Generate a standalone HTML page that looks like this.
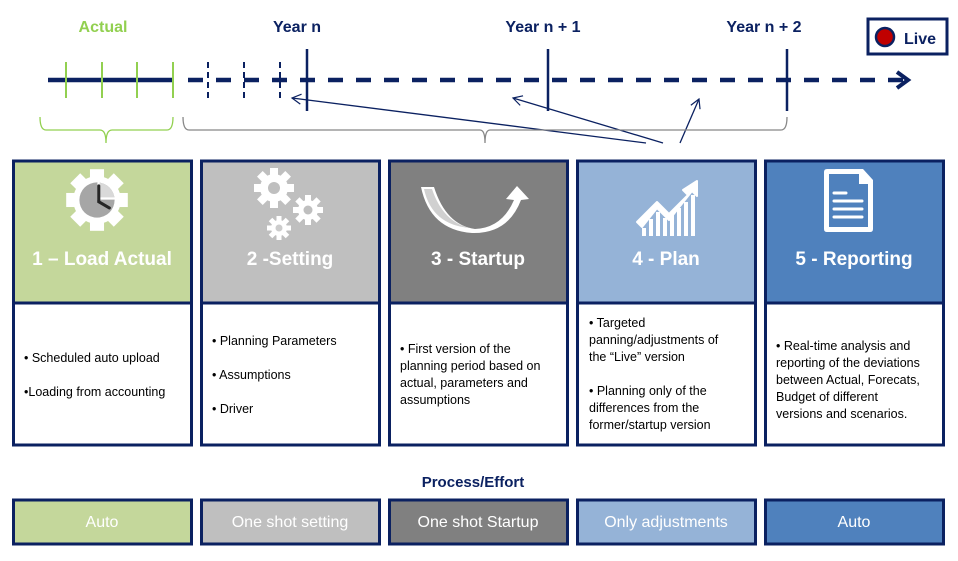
<!DOCTYPE html>
<html><head><meta charset="utf-8"><style>
html,body{margin:0;padding:0;background:#fff;}
svg{display:block;font-family:"Liberation Sans",sans-serif;}
</style></head><body>
<svg width="958" height="561" viewBox="0 0 958 561" xmlns="http://www.w3.org/2000/svg">
<defs>
<marker id="ah" markerWidth="12" markerHeight="12" refX="10" refY="6" orient="auto" markerUnits="userSpaceOnUse">
<path d="M1,1 L10,6 L1,11" fill="none" stroke="#0b2161" stroke-width="1.2"/></marker>
</defs>
<text x="103" y="32" text-anchor="middle" font-size="16" font-weight="bold" fill="#92d050">Actual</text>
<text x="297" y="32" text-anchor="middle" font-size="16" font-weight="bold" fill="#0b2161">Year n</text>
<text x="543" y="32" text-anchor="middle" font-size="16" font-weight="bold" fill="#0b2161">Year n + 1</text>
<text x="764" y="32" text-anchor="middle" font-size="16" font-weight="bold" fill="#0b2161">Year n + 2</text>
<rect x="868" y="19" width="79" height="35" fill="#fff" stroke="#0b2161" stroke-width="3"/>
<circle cx="885" cy="37" r="9" fill="#c00000" stroke="#0b2161" stroke-width="2.5"/>
<text x="904" y="44" font-size="16" font-weight="bold" fill="#0b2161">Live</text>
<line x1="48" y1="80" x2="174" y2="80" stroke="#0b2161" stroke-width="4.5"/>
<line x1="188" y1="80" x2="905" y2="80" stroke="#0b2161" stroke-width="4.5" stroke-dasharray="15,13"/>
<path d="M897,72 L908,80 L897,88" fill="none" stroke="#0b2161" stroke-width="4"/>
<g stroke="#92d050" stroke-width="2">
<line x1="66" y1="62" x2="66" y2="98"/><line x1="102" y1="62" x2="102" y2="98"/>
<line x1="137" y1="62" x2="137" y2="98"/><line x1="173" y1="62" x2="173" y2="98"/></g>
<g stroke="#0b2161" stroke-width="2" stroke-dasharray="6,4">
<line x1="208" y1="62" x2="208" y2="98"/><line x1="244" y1="62" x2="244" y2="98"/><line x1="280" y1="62" x2="280" y2="98"/></g>
<g stroke="#0b2161" stroke-width="2.5">
<line x1="307" y1="49" x2="307" y2="111"/><line x1="548" y1="49" x2="548" y2="111"/><line x1="787" y1="49" x2="787" y2="111"/></g>
<g stroke="#0b2161" stroke-width="1.3" fill="none">
<line x1="646" y1="143" x2="292" y2="98" marker-end="url(#ah)"/>
<line x1="663" y1="143" x2="513" y2="98" marker-end="url(#ah)"/>
<line x1="680" y1="143" x2="699" y2="99" marker-end="url(#ah)"/>
</g>
<path d="M40,117 Q40,130 46,130 L100,130 Q106,130 106,143 Q106,130 112,130 L167,130 Q173,130 173,117" fill="none" stroke="#92d050" stroke-width="1.3"/>
<path d="M183,117 Q183,130 189,130 L480,130 Q485,130 485,143 Q485,130 490,130 L781,130 Q787,130 787,117" fill="none" stroke="#888" stroke-width="1.3"/>
<g stroke="#0b2161" stroke-width="3">
<rect x="13.5" y="161" width="178" height="142" fill="#c4d79b"/>
<rect x="201.5" y="161" width="178" height="142" fill="#bfbfbf"/>
<rect x="389.5" y="161" width="178" height="142" fill="#808080"/>
<rect x="577.5" y="161" width="178" height="142" fill="#95b3d7"/>
<rect x="765.5" y="161" width="178" height="142" fill="#4f81bd"/>
<rect x="13.5" y="303" width="178" height="142" fill="#fff"/>
<rect x="201.5" y="303" width="178" height="142" fill="#fff"/>
<rect x="389.5" y="303" width="178" height="142" fill="#fff"/>
<rect x="577.5" y="303" width="178" height="142" fill="#fff"/>
<rect x="765.5" y="303" width="178" height="142" fill="#fff"/>
</g>
<g font-size="19" font-weight="bold" fill="#fff" text-anchor="middle">
<text x="102" y="265">1 – Load Actual</text>
<text x="290" y="265">2 -Setting</text>
<text x="478" y="265">3 - Startup</text>
<text x="666" y="265">4 - Plan</text>
<text x="854" y="265">5 - Reporting</text>
</g>
<g transform="translate(97,200) scale(0.88)">
<g fill="#fff">
<circle r="27"/>
<rect x="-8" y="-35" width="16" height="14"/><rect x="-8" y="21" width="16" height="14"/>
<rect x="-35" y="-8" width="14" height="16"/><rect x="21" y="-8" width="14" height="16"/>
<rect x="-8" y="-35" width="16" height="14" transform="rotate(45)"/><rect x="-8" y="-35" width="16" height="14" transform="rotate(135)"/>
<rect x="-8" y="-35" width="16" height="14" transform="rotate(225)"/><rect x="-8" y="-35" width="16" height="14" transform="rotate(315)"/>
</g>
<circle r="20" fill="#a6a6a6"/>
<path d="M0,0 L0,-20 A20,20 0 0 1 20,0 Z" fill="#d9d9d9"/>
<path d="M2,-20 L2,-2 L20,-2" fill="none" stroke="#fff" stroke-width="2"/>
<path d="M2,-16 L2,2 L14,9" fill="none" stroke="#262626" stroke-width="3.5" stroke-linecap="round"/>
</g>
<g fill="#fff">
<g transform="translate(274,188)"><circle r="14"/>
<g><rect x="-4" y="-20" width="8" height="8"/><rect x="-4" y="-20" width="8" height="8" transform="rotate(45)"/><rect x="-4" y="-20" width="8" height="8" transform="rotate(90)"/><rect x="-4" y="-20" width="8" height="8" transform="rotate(135)"/><rect x="-4" y="-20" width="8" height="8" transform="rotate(180)"/><rect x="-4" y="-20" width="8" height="8" transform="rotate(225)"/><rect x="-4" y="-20" width="8" height="8" transform="rotate(270)"/><rect x="-4" y="-20" width="8" height="8" transform="rotate(315)"/></g>
<circle r="6" fill="#bfbfbf"/></g>
<g transform="translate(308,210)"><circle r="10"/>
<g><rect x="-3" y="-15" width="6" height="7"/><rect x="-3" y="-15" width="6" height="7" transform="rotate(45)"/><rect x="-3" y="-15" width="6" height="7" transform="rotate(90)"/><rect x="-3" y="-15" width="6" height="7" transform="rotate(135)"/><rect x="-3" y="-15" width="6" height="7" transform="rotate(180)"/><rect x="-3" y="-15" width="6" height="7" transform="rotate(225)"/><rect x="-3" y="-15" width="6" height="7" transform="rotate(270)"/><rect x="-3" y="-15" width="6" height="7" transform="rotate(315)"/></g>
<circle r="4.5" fill="#bfbfbf"/></g>
<g transform="translate(279,228)"><circle r="8"/>
<g><rect x="-2.5" y="-12" width="5" height="6"/><rect x="-2.5" y="-12" width="5" height="6" transform="rotate(45)"/><rect x="-2.5" y="-12" width="5" height="6" transform="rotate(90)"/><rect x="-2.5" y="-12" width="5" height="6" transform="rotate(135)"/><rect x="-2.5" y="-12" width="5" height="6" transform="rotate(180)"/><rect x="-2.5" y="-12" width="5" height="6" transform="rotate(225)"/><rect x="-2.5" y="-12" width="5" height="6" transform="rotate(270)"/><rect x="-2.5" y="-12" width="5" height="6" transform="rotate(315)"/></g>
<circle r="3.5" fill="#808080" opacity="0.4"/></g>
</g>
<path d="M421,187 L434,187 Q446,225 475,229 Q502,228 514,200 L506,199 L517,186 L529,199 L521,200 Q508,234 472,233 Q430,230 421,187 Z" fill="#fff"/>
<path d="M424,189 L432,189 Q443,222 470,228 Q432,225 424,189 Z" fill="#d0d0d0"/>
<g fill="#fff">
<path d="M637,222 L657,202 L669,214 L688,195 L683,190 L697,181 L697,196 L692,191 L669,220 L657,208 L642,227 Z" stroke="#fff" stroke-width="2" stroke-linejoin="round"/>
<rect x="642" y="228" width="4" height="8"/><rect x="649" y="219" width="4" height="17"/><rect x="656" y="212" width="4" height="24"/>
<rect x="663" y="218" width="4" height="18"/><rect x="670" y="215" width="4" height="21"/><rect x="677" y="208" width="4" height="28"/><rect x="684" y="202" width="4" height="34"/><rect x="691" y="195" width="4" height="41"/>
</g>
<g>
<path d="M827,169 L863,169 L873,180 L873,229 Q873,232 870,232 L827,232 Q824,232 824,229 L824,172 Q824,169 827,169 Z" fill="#fff"/>
<path d="M829,174 L859,174 L859,184 L868,184 L868,227 L829,227 Z" fill="#4f81bd"/>
<path d="M861,172 L870,181 L861,181 Z" fill="#fff"/>
<g stroke="#fff" stroke-width="3" stroke-linecap="round"><line x1="834" y1="193" x2="846" y2="193"/><line x1="834" y1="201" x2="862" y2="201"/><line x1="834" y1="209" x2="862" y2="209"/><line x1="834" y1="217" x2="862" y2="217"/></g>
</g>
<g font-size="12.5" fill="#000">
<text x="24" y="362">• Scheduled  auto upload</text>
<text x="24" y="396">•Loading from accounting</text>
<text x="212" y="345">• Planning  Parameters</text>
<text x="212" y="379">• Assumptions</text>
<text x="212" y="413">• Driver</text>
<text x="400" y="353">• First version of the</text>
<text x="400" y="370">planning period based on</text>
<text x="400" y="387">actual, parameters and</text>
<text x="400" y="404">assumptions</text>
<text x="589" y="327">• Targeted</text>
<text x="589" y="344">panning/adjustments of</text>
<text x="589" y="361">the “Live” version</text>
<text x="589" y="395">• Planning only of the</text>
<text x="589" y="412">differences from the</text>
<text x="589" y="429">former/startup version</text>
<text x="776" y="350">• Real-time analysis and</text>
<text x="776" y="367">reporting of the deviations</text>
<text x="776" y="384">between Actual, Forecats,</text>
<text x="776" y="401">Budget of different</text>
<text x="776" y="418">versions and scenarios.</text>
</g>
<text x="473" y="487" text-anchor="middle" font-size="15" font-weight="bold" fill="#0b2161">Process/Effort</text>
<g stroke="#0b2161" stroke-width="3">
<rect x="13.5" y="500" width="178" height="44" fill="#c4d79b"/>
<rect x="201.5" y="500" width="178" height="44" fill="#bfbfbf"/>
<rect x="389.5" y="500" width="178" height="44" fill="#808080"/>
<rect x="577.5" y="500" width="178" height="44" fill="#95b3d7"/>
<rect x="765.5" y="500" width="178" height="44" fill="#4f81bd"/>
</g>
<g font-size="16" fill="#fff" text-anchor="middle">
<text x="102" y="527">Auto</text>
<text x="290" y="527">One shot setting</text>
<text x="478" y="527">One shot Startup</text>
<text x="666" y="527">Only adjustments</text>
<text x="854" y="527">Auto</text>
</g>
</svg>
</body></html>
